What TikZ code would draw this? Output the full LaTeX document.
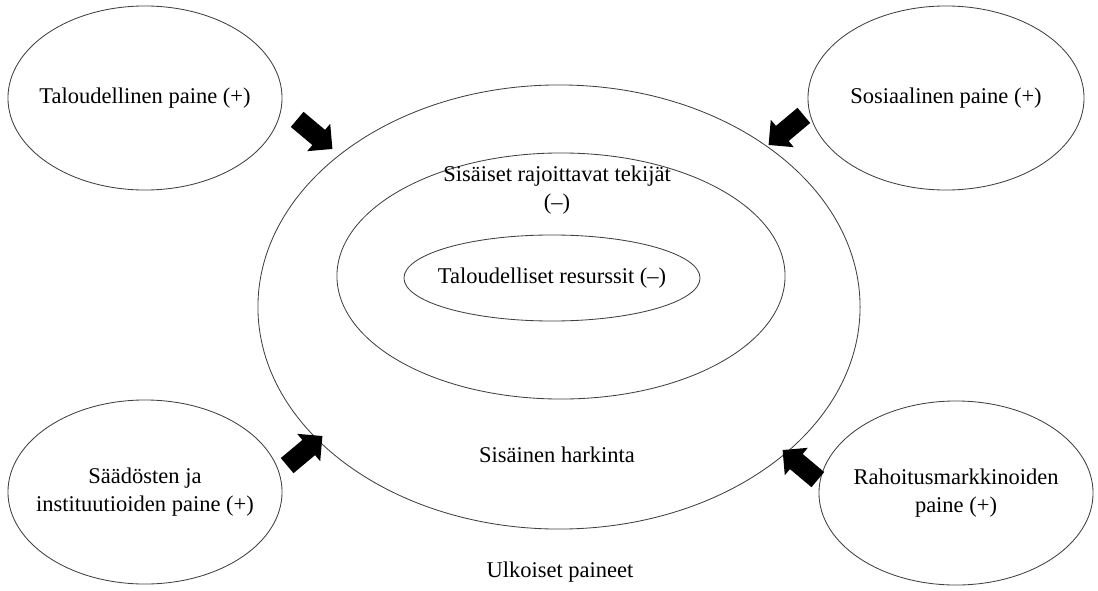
\documentclass[tikz,border=0pt]{standalone}
\usepackage{fontspec}
\setmainfont{Liberation Serif}
\usetikzlibrary{shapes.geometric,shapes.arrows,positioning}

\begin{document}
\begin{tikzpicture}[
    x=0.025cm, y=-0.025cm,
    oval/.style={draw=black!75, line width=0.6pt, ellipse, inner sep=0pt},
    lbl/.style={align=center, font=\fontsize{16}{19.5}\selectfont},
    push/.style={single arrow, fill=black, draw=none, inner sep=0.24cm, minimum height=1.15cm, single arrow head extend=0.2cm}
]
\useasboundingbox (0,0) rectangle (1098,591);

% ulkoiset paineet
\node[oval, minimum width=6.85cm, minimum height=4.6cm] (econ) at (145,98) {};
\node[oval, minimum width=6.9cm, minimum height=4.6cm] (soc) at (946,98) {};
\node[oval, minimum width=6.85cm, minimum height=4.6cm] (reg) at (145,492) {};
\node[oval, minimum width=6.85cm, minimum height=4.6cm] (fin) at (956,493) {};
\node[lbl] (econtxt) at (econ.center) {Taloudellinen paine (+)};
\node[lbl] (soctxt) at (soc.center) {Sosiaalinen paine (+)};
\node[lbl] (regtxt) at (reg.center) {Säädösten ja\\instituutioiden paine (+)};
\node[lbl] (fintxt) at (fin.center) {Rahoitusmarkkinoiden\\paine (+)};

% sisäiset kehät
\node[oval, minimum width=15.05cm, minimum height=11.1cm] (inner) at (559,307) {};
\node[oval, minimum width=11.2cm, minimum height=6.15cm] (limits) at (561,276) {};
\node[oval, minimum width=7.4cm, minimum height=2.15cm] (res) at (552,278) {};
\node[lbl] (restxt) at (res.center) {Taloudelliset resurssit (–)};

\node[lbl] (limtxt) at (557,190) {Sisäiset rajoittavat tekijät\\(–)};
\node[lbl] (intxt) at (557,455) {Sisäinen harkinta};
\node[lbl] (outtxt) at (560,572) {Ulkoiset paineet};

% nuolet
\node[push, rotate=-40] (pEcon) at (311,131) {};
\node[push, rotate=-140] (pSoc) at (790,127) {};
\node[push, rotate=40] (pReg) at (301,454) {};
\node[push, rotate=140] (pFin) at (804,468) {};
\end{tikzpicture}
\end{document}
